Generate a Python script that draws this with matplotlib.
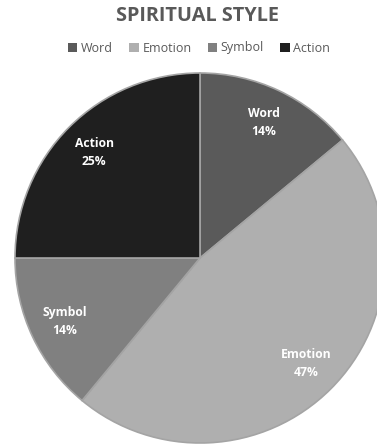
import matplotlib
matplotlib.use("Agg")
import matplotlib.pyplot as plt
from matplotlib.patches import Patch

categories = ["Word", "Emotion", "Symbol", "Action"]
values = [14, 47, 14, 25]
colors = ["#5a5a5a", "#afafaf", "#808080", "#1f1f1f"]
title = "SPIRITUAL STYLE"

W, H = 377, 445
fig = plt.figure(figsize=(W / 100, H / 100), dpi=100)
ax = fig.add_axes([0, 0, 1, 1])
R = 185.0
cx, cy = 200.0, 258.0

labels = [f"{c}\n{v}%" for c, v in zip(categories, values)]
wedges, texts = ax.pie(values, colors=colors, startangle=90, counterclock=False,
                       radius=1.0, labels=labels, labeldistance=0.81,
                       wedgeprops=dict(edgecolor="#a4a4a4", linewidth=1.2),
                       textprops=dict(color="white", fontsize=8.7, fontweight="bold",
                                      family="Open Sans", linespacing=1.5))
for t in texts:
    t.set_ha("center")
    t.set_va("center")
ax.set_xlim(-cx / R, (W - cx) / R)
ax.set_ylim(-(H - cy) / R, cy / R)
ax.set_aspect("auto")
ax.axis("off")

fig.text(198 / W, 1 - 16 / H, title, ha="center", va="center", fontsize=14.3,
         fontweight="bold", family="Open Sans", color="#595959")

handles = [Patch(facecolor=c, edgecolor="none") for c in colors]
fig.legend(handles, categories, loc="center", bbox_to_anchor=(199 / W, 1 - 48 / H),
           ncol=4, frameon=False, prop=dict(family="Open Sans", size=9),
           labelcolor="#595959", handlelength=0.75, handleheight=0.75,
           handletextpad=0.3, columnspacing=1.3)

fig.savefig("out.png", dpi=100, facecolor="white")
